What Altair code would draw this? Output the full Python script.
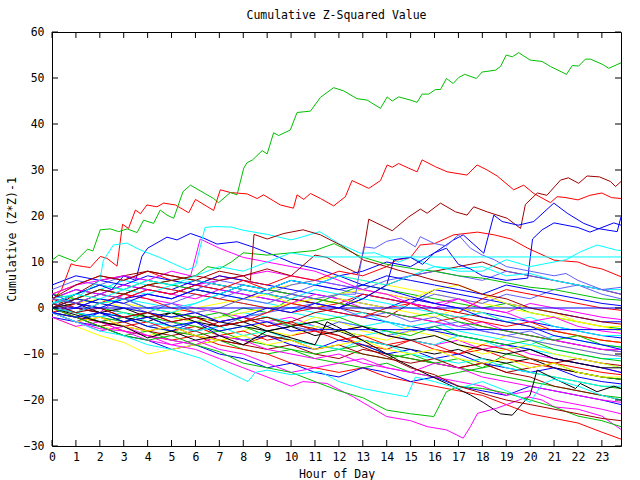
import altair as alt
import pandas as pd

FONT = "DejaVu Sans Mono"
FS = 11.5

HOURS = list(range(24)) + [23.8]
X_TICKS = list(range(24))
Y_TICKS = [-30, -20, -10, 0, 10, 20, 30, 40, 50, 60]

# ---- prominent series read point by point: (hour, value) ----
green_top = [(0,10.4),(0.28,11.5),(0.97,10.1),(1.49,12.8),(1.71,12.4),(2.02,17),(2.44,17.2),(2.79,16.6),
    (3.14,17.2),(3.56,16.4),(3.83,19.1),(4.25,18.4),(4.53,21.3),(4.81,20.2),(5.09,19.5),(5.48,25.3),
    (5.79,26.7),(6.76,23.8),(6.97,22.9),(7.46,25.1),(7.74,24.6),(8.02,30.4),(8.16,31.6),(8.39,32.2),
    (8.79,34.2),(9.0,33.5),(9.27,38.1),(9.48,37.5),(9.97,38.7),(10.25,42.5),(10.81,42.8),(11.23,45.8),
    (11.78,47.9),(12.2,47.2),(12.76,45.5),(13.18,45.2),(13.74,43.4),(14.02,45.9),(14.23,45),(14.5,45.9),
    (15.06,45.1),(15.27,44.7),(15.48,46.5),(15.76,46.5),(16.04,47.5),(16.25,47.5),(16.5,49.9),(16.78,48.8),
    (17.01,50.1),(17.26,50.8),(17.75,49.9),(17.99,51.3),(18.55,51.7),(18.76,52.5),(19.0,55),(19.25,54.6),
    (19.52,55.5),(20.0,53.9),(20.5,53.6),(20.85,52.5),(21.52,50.8),(21.76,52.7),(22.03,52.6),(22.31,54.1),
    (22.52,54.1),(23.01,53),(23.29,52.1),(23.8,53.3)]
red_top = [(0,1.5),(0.4,4),(0.8,9.6),(0.97,9.3),(1.32,9),(1.6,8.8),(2.02,11.2),(2.3,10.8),(2.72,9.1),
    (2.95,18.2),(3.2,17.3),(3.49,21.3),(3.7,20.5),(3.97,22.4),(4.39,22),(4.67,22.8),(5.16,22.4),(5.72,20.7),
    (6.0,23.6),(6.76,21.2),(7.04,25.7),(7.46,25.1),(8.16,24.8),(8.58,23.8),(8.85,24.6),(9.55,22.4),
    (10.1,21.7),(10.25,24.6),(10.53,23.6),(10.81,24.9),(11.23,23.8),(11.78,22.2),(12.27,24.2),(12.55,27.7),
    (12.97,26.7),(13.25,26),(13.74,27.7),(14.02,31.1),(14.23,30.6),(14.5,31.4),(14.92,30.4),(15.27,29.6),
    (15.48,32.2),(16.04,30.7),(16.53,29.6),(17.36,28.9),(17.78,31.1),(18.2,30),(18.62,28.7),(19.31,25.7),
    (19.73,26.7),(20.15,24.9),(20.85,22.9),(21.13,24.2),(21.5,24),(22.0,23.5),(22.5,24.5),(23.0,25),
    (23.4,24),(23.8,23.8)]
darkred_jump = [(0,2),(1,5),(2,7),(3,6),(4,8),(5,7),(6,6),(7,8),(8,7),(9,8.5),(10,7),(11,11.5),(11.5,11),
    (12,9.5),(12.8,7.5),(13.04,12.6),(13.25,19.3),(13.88,17.7),(14.23,16.8),(14.92,19.8),(15.41,21.5),
    (15.69,20.6),(16.25,22.8),(16.88,20.9),(17.36,20.2),(17.64,22),(18.2,20.9),(19.04,19.5),(19.6,17.3),
    (19.8,22.5),(20.3,25),(20.7,24.5),(21.27,27.8),(21.6,28.3),(22.03,27.1),(22.38,28.7),(22.9,28.5),
    (23.36,27.5),(23.57,26.4),(23.8,27.5)]
darkred_step = [(0,0),(1,2),(2,4),(3,3),(4,5),(5,6),(6,7),(7,6),(8,7),(8.3,6),(8.45,16),(9,15),(9.7,16.2),
    (10.5,17),(11.23,15.9),(12.06,13.7),(12.62,11.9),(13.04,10.4),(14,9),(14.43,8.3),(15,7.5),(16,6),
    (17,5),(18,3),(19,2),(20,0),(21,-1),(22,-2),(23,-3),(23.8,-3.5)]
red_mid = [(0,-1),(1,1),(2,3),(3,2),(4,4),(5,3),(6,5),(7,4),(8,6),(9,5),(10,7),(11,6),(12,8),(13,7),
    (14,9),(14.4,10.4),(15,11),(15.4,13.7),(16,14),(16.8,15.9),(17.8,16.5),(18.5,15.9),(19.2,15),
    (19.9,13),(21,10.4),(22,10),(22.5,9),(23,8.5),(23.8,6.8)]
cyan_top = [(0,1),(1,2),(2,6),(2.15,10.4),(2.57,13.7),(3.13,14.1),(3.7,12.6),(4.5,11),(5.65,8.3),(6.0,9),
    (6.4,17.5),(6.76,17.7),(7.5,17.6),(8,16.9),(9,16),(10,14.8),(10.5,15.5),(11.2,16.6),(12,14),
    (12.9,11.9),(13.5,12),(14.5,10),(15,11),(16,9),(17,8.5),(18,9),(19,7),(20,7.5),(21,6),(22,5),
    (23,4),(23.8,4)]
cyan_right = [(0,0),(1,-1),(2,1),(3,2),(4,0),(5,-1),(6,1),(7,3),(8,5),(9,4),(10,6),(11,5),(12,7),(13,6),
    (14,5),(15,7),(16,9),(17,8),(18,8),(19,10.5),(20,9),(21,10),(21.5,10.5),(22.1,12.2),(22.8,13.7),
    (23.6,12.6),(23.8,12.5)]
cyan_flat = [(0,1),(1,3),(2,2),(3,4),(4,6),(5,5),(6,7),(7,9),(8,8),(9,10),(10,12),(11,11.1),(23.8,11.1)]
blue_zero = [(0,0),(23.8,0)]
blue_flat = [(0,-1),(1,-2),(2,-1),(3,-3),(4,-2),(5,-4),(6,-3),(7,-5),(8,-4),(9,-3),(10,-5),(11,-4.7),(23.8,-4.7)]
blue_plateau = [(0,1),(1,3),(2,5),(2.5,4),(3,7),(3.5,6),(3.76,11.2),(4.0,13),(4.81,15.4),(5.23,14.8),
    (5.79,16.2),(6.34,15.2),(6.9,13.9),(7.74,14.4),(8.43,13.2),(9.27,11.5),(10.1,9.7),(11.23,8.3),(12,7),
    (13,5),(14,4),(15,2.5),(16,1),(17,0),(18,-2),(19,-3),(20,-4),(21,-6),(22,-7),(23,-8),(23.8,-9)]
blue_high = [(0,-1),(1,0),(2,2),(3,1),(4,3),(5,2),(6,4),(7,3),(8,5),(9,4),(10,6),(11,5),(12,7),(13,8),
    (14,10),(15,9),(16,12),(16.8,14.8),(17.2,15.9),(18.06,11.9),(18.48,20.2),(18.83,18.8),(19.5,18),
    (20.15,18.8),(20.99,22.8),(21.55,20.6),(22.24,18.4),(22.8,17.3),(23.64,16.6),(23.8,19.8)]
blue_jump20 = [(0,0),(1,2),(2,1),(3,0),(4,-1),(5,-2),(6,-1),(7,-3),(8,-2),(9,0),(10,-1),(11,1),(12,0),
    (13,2),(14,5),(14.3,10.5),(15,11),(15.5,9.5),(16,12),(16.5,13),(17,9.5),(17.5,8.5),(18,7),(19,6),
    (19.9,6.5),(20.1,15),(20.5,17),(21,18.5),(21.5,18),(22,17.5),(22.5,16.5),(23,17.5),(23.5,18.5),(23.8,18)]
blue_jump13 = [(0,2),(1,1),(2,3),(3,2),(4,0),(5,1),(6,-1),(7,0),(8,2),(9,1),(10,3),(11,2),(12,3),(12.7,3),
    (13.04,13.3),(13.5,13),(14,14.5),(14.6,15.2),(15.2,13.3),(15.4,15.5),(16,14),(16.5,13.5),(17,15.9),
    (17.5,13),(18,11.5),(18.5,10.5),(19,9),(19.5,8.5),(20,8),(20.5,7.5),(21,7),(21.5,7.5),(22,6),(22.5,5),
    (23,4),(23.8,4.5)]
green_mid = [(0,0),(1,2),(2,4),(3,3),(4,5),(5,6),(6,7),(6.5,9),(7,8.5),(7.5,10),(8,12),(9,11.5),(10,12),
    (11,12.5),(11.8,14),(12.9,11.2),(14,9.5),(15.4,8.3),(16,8),(17,7),(18,6.5),(19,5.5),(20,4.5),(21,4),
    (22,3),(23,2),(23.8,1.7)]
magenta_peak = [(0,3),(1,5),(2,6),(3,7),(4,6),(5,8),(5.8,7),(6.2,15),(7,13),(8,11),(9,10),(10,9),(11,8),
    (12,6),(13,4),(14,3),(15,1),(16,0),(17,2),(18,0),(19,-1),(20,-3),(21,-2),(22,-4),(23,-5),(23.8,-5.5)]
black_diag = [(0,0),(1,-1.5),(2,-3),(3,-4),(4,-6.5),(5,-5),(6,-7),(7,-6),(8,-8),(9,-5),(10,-6.5),(11,-8),
    (11.5,-3),(11.9,-4),(12.6,-5.9),(14.7,-12),(16.5,-16.4),(17.5,-18.9),(18.06,-20.6),(18.76,-23),
    (19.25,-23.3),(20.0,-18.9),(20.29,-13.5),(20.99,-15.3),(21.9,-17.5),(22.1,-16.4),(22.8,-18.2),
    (23.5,-17),(23.8,-17.5)]
darkred_diag = [(0,1),(1,-1),(2,0),(3,-2),(4,-1),(5,-3),(6,-2),(7,-4),(8,-3),(9,-2),(10,-3.5),(11,-4.5),
    (12,-6),(13,-8.5),(14,-10.5),(15,-13),(16,-14.5),(17,-17),(17.8,-18.2),(18.3,-19),(19,-20),(20,-21),
    (21,-22),(22,-23),(23,-24),(23.8,-24.5)]
magenta_low = [(0,-1),(1,-3),(2,-4.5),(3,-5),(4,-7),(5,-8),(6,-9),(7,-11),(8,-13),(9,-15),(10,-17),
    (10.5,-16),(11.5,-16.4),(12.6,-19.3),(14,-23.6),(15,-24.5),(15.7,-25.8),(16.5,-26.5),(17.2,-28.3),
    (17.5,-25.8),(17.8,-22.9),(18.6,-21.8),(19.9,-19.3),(20.5,-20),(21,-21.5),(22,-22),(23,-23.5),(23.8,-26.4)]
green_low = [(0,0),(1,-2),(2,-4),(3,-6),(4,-7),(5,-6),(6,-8),(7,-9.5),(8,-12),(9,-13),(10,-14),(11,-16),
    (12,-18),(13,-19.5),(14,-22.2),(15,-23),(15.97,-23.6),(16.5,-18.2),(17,-17),(18,-17.5),(19,-18.5),
    (20,-20),(21,-21.5),(22,-23.5),(23,-24.5),(23.8,-25.8)]
cyan_low = [(0,-1),(1,-3),(2,-5),(3,-6),(4,-8),(5,-9),(6.2,-10.9),(7,-13),(8.2,-16),(8.5,-14),(9,-13.5),
    (10,-14.5),(11.2,-13.8),(12,-16),(13,-17.5),(14,-18.5),(14.85,-19.3),(15.2,-15),(16,-16),(17,-17.5),
    (18,-16),(19,-18),(20,-20.5),(20.5,-16.5),(21,-15.5),(22,-17),(23,-19),(23.8,-20)]

# ---- background series, one value per hour (HOURS) ----
bg_red_1 = [3,5,7,6,8,6,5,7,6,4,3,2,1,0,-1,-2,-3,-2,-4,-5,-6,-7,-8,-9,-9.5]
bg_green_1 = [0,-1,-2,-3,-1,-2,-3,-2,0,-1,2,1,3,5,4,3,2,1,0,1,-1,-2,-3,-4,-4.5]
bg_blue_1 = [0,2,1,3,5,4,6,5,4,3,2,1,0,3,2,1,4,3,2,1,0,-1,-2,-3,-3]
bg_magenta_1 = [1,0,-1,3,2,1,0,-1,-2,-3,-2,-4,-5,-4,-6,-7,-8,-7,-9,-8,-10,-11,-12,-13,-14]
bg_cyan_1 = [3,2,4,6,5,4,3,2,1,0,-1,-2,-3,-4,-3,-5,-4,-6,-7,-8,-9,-10,-11,-12,-13]
bg_darkred_1 = [0,3,6,7,8,7,6,5,4,3,2,1,0,-1,-2,1,0,-1,-2,-3,-4,-5,-6,-7,-7.5]
bg_yellow_1 = [0,-2,-4,-5,-6,-5,-4,-6,-5,-3,-4,-2,-3,-5,-6,-4,-5,-7,-8,-6,-7,-8,-9,-10,-10.5]
bg_slate_1 = [-1,-2,-3,-2,-4,-3,-5,-4,-2,-3,-4,-5,-3,-4,-6,-5,-4,-3,-5,-6,-5,-7,-8,-9,-9.5]
bg_red_2 = [-1,-3,-2,-4,-3,-5,-4,-6,-5,-7,-6,-5,-6,-8,-9,-7,-8,-10,-9,-11,-12,-13,-14,-15,-15.5]
bg_blue_2 = [2,4,3,5,7,6,5,4,3,2,1,0,-1,-2,-3,-4,-5,-6,-7,-8,-9,-11,-12,-13,-14]
bg_yellow_2 = [1,3,2,1,0,-1,0,1,2,4,5,6,7,6,5,4,3,2,1,0,-1,-2,-3,-4,-5]
bg_magenta_2 = [0,1,3,2,4,3,5,6,7,8,7,6,5,4,3,2,1,2,0,-1,1,0,-1,-2,-2.5]
bg_cyan_2 = [-1,-2,-1,-3,-2,-4,-3,-2,-1,-2,-3,-4,-5,-6,-5,-7,-8,-6,-7,-9,-8,-9,-10,-11,-11]
bg_green_2 = [-1,-2,-4,-6,-5,-7,-8,-7,-9,-10,-9,-11,-12,-13,-12,-14,-15,-14,-13,-12,-14,-15,-16,-17,-17.5]
bg_black_2 = [1,0,-1,-2,-3,-1,-2,-3,-4,-5,-4,-6,-5,-7,-8,-9,-10,-9,-11,-12,-11,-13,-14,-15,-15.5]
bg_darkred_2 = [0,-1,-3,-4,-5,-6,-5,-7,-8,-9,-8,-10,-11,-9,-10,-11,-12,-13,-12,-14,-13,-12,-11,-12,-12.5]
bg_slate_2 = [4,6,5,7,6,5,4,6,5,4,3,5,4,3,2,1,3,2,1,3,2,4,5,3,2]
bg_red_3 = [0,-2,-3,-5,-6,-7,-6,-8,-9,-10,-12,-13,-14,-13,-15,-16,-17,-18,-19,-21,-23,-24,-25,-27,-28.5]
bg_blue_3 = [-1,-3,-4,-6,-7,-9,-8,-10,-11,-13,-12,-14,-15,-13,-14,-16,-15,-17,-18,-19,-17,-18,-19,-20,-21]
bg_yellow_3 = [-2,-4,-6,-7.5,-10,-9,-8,-7,-6,-5,-6,-4,-5,-6,-7,-5,-6,-8,-10,-9,-8,-10,-11,-12,-13]
bg_magenta_3 = [-1,-3,-5,-4,-6,-8,-7,-9,-10,-12,-14,-13,-12,-11,-13,-14,-15,-16,-17,-19,-18,-20,-21,-22,-23]
bg_cyan_3 = [0,1,0,2,1,0,1,3,2,1,0,-1,-2,-1,-3,-4,-3,-5,-6,-7,-8,-6,-7,-8,-8.5]
bg_green_3 = [2,1,0,-1,-2,-3,-4,-5,-4,-6,-7,-8,-9,-10,-11,-10,-12,-13,-14,-15,-16,-17,-18,-19,-19.5]
bg_blue_4 = [5,7,6,5,4,3,5,7,6,5,4,3,2,1,0,2,1,0,-1,-2,-3,-4,-5,-6,-6.5]
bg_darkred_3 = [2,0,-1,-3,-2,-4,-5,-3,-2,-4,-3,-1,0,2,5,7,8,9,10,8,7,6,5,4,3]
bg_slate_3 = [0,-1,-2,0,-1,1,3,2,4,3,5,6,5,4,6,7,8,7,6,8,7,6,5,4,3]
bg_red_4 = [1,2,4,3,5,4,3,2,1,0,-1,0,1,3,2,1,0,-1,2,4,3,2,1,0,-0.5]
bg_yellow_4 = [3,2,1,0,-1,-2,-3,-2,-1,0,1,2,3,4,3,2,4,5,3,1,0,-1,-3,-4,-4]
bg_green_4 = [0,-1,-3,-2,-4,-5,-6,-5,-7,-8,-9,-10,-9,-8,-10,-11,-12,-11,-13,-10,-11,-12,-14,-15,-15.5]
bg_red_5 = [0,-1,1,3,2,0,-1,-3,-2,-4,-3,-5,-7,-6,-8,-7,-9,-10,-8,-9,-11,-12,-13,-14,-14.5]
bg_blue_5 = [-2,-3,-1,-2,-4,-5,-3,-6,-7,-6,-8,-9,-7,-8,-10,-9,-11,-10,-12,-13,-14,-13,-15,-16,-16.5]
bg_magenta_4 = [2,4,3,5,4,3,2,4,3,2,1,3,2,0,-1,-2,-3,-4,-3,-5,-6,-7,-8,-9,-9]
bg_green_5 = [3,2,1,2,0,-1,-2,-1,-3,-2,-4,-3,-2,-4,-5,-6,-4,-6,-7,-8,-7,-9,-10,-11,-11.5]
bg_cyan_4 = [1,-1,-2,-1,-3,-4,-5,-4,-6,-5,-7,-8,-9,-7,-8,-10,-11,-12,-11,-13,-14,-15,-16,-17,-17]
bg_yellow_5 = [0,1,2,0,-1,-2,-1,0,2,3,1,0,2,1,0,-1,-2,0,-1,-3,-4,-5,-6,-7,-7.5]
bg_darkred_4 = [-1,-2,-4,-3,-5,-4,-6,-7,-8,-6,-7,-9,-8,-10,-11,-12,-11,-13,-12,-14,-15,-17,-18,-19,-20]
bg_slate_4 = [1,0,2,1,-1,-2,-1,-3,-2,-1,0,1,0,-2,-1,-3,-2,-4,-5,-6,-7,-8,-9,-10,-10.5]
bg_black_3 = [0,1,-1,0,-2,-1,-3,-4,-3,-5,-4,-3,-5,-4,-6,-7,-6,-8,-9,-10,-9,-11,-12,-13,-13]
bg_red_6 = [2,1,0,-2,-1,-3,-2,-4,-3,-1,1,0,-1,-2,0,1,-1,-2,-3,-4,-3,-5,-6,-7,-7.5]
bg_blue_6 = [3,1,0,2,3,2,4,3,2,4,6,5,4,5,7,6,5,4,3,5,4,3,2,1,0.5]
bg_green_6 = [1,3,5,4,6,5,4,3,5,4,3,2,1,0,-1,-2,-1,-3,-4,-5,-6,-7,-6,-8,-8.5]
bg_magenta_5 = [-2,-4,-3,-5,-6,-7,-8,-6,-7,-9,-10,-11,-10,-12,-13,-14,-12,-13,-15,-16,-17,-18,-19,-20,-20.5]
bg_cyan_5 = [2,3,5,4,3,5,6,5,4,3,2,4,3,2,1,0,-1,-2,-1,-3,-2,-4,-5,-6,-6]
bg_yellow_6 = [-1,-3,-2,-4,-5,-4,-6,-7,-6,-8,-7,-9,-8,-7,-9,-10,-9,-11,-12,-11,-13,-12,-14,-15,-15]

RED, GREEN, BLUE, MAGENTA, CYAN = "#ff0000", "#00c000", "#0000ff", "#ff00ff", "#00ffff"
DARKRED, YELLOW, BLACK, SLATE = "#a00000", "#ffff00", "#000000", "#6060ff"

background = [
    ("bg_red_1", RED, bg_red_1), ("bg_green_1", GREEN, bg_green_1), ("bg_blue_1", BLUE, bg_blue_1),
    ("bg_magenta_1", MAGENTA, bg_magenta_1), ("bg_cyan_1", CYAN, bg_cyan_1),
    ("bg_darkred_1", DARKRED, bg_darkred_1), ("bg_yellow_1", YELLOW, bg_yellow_1),
    ("bg_slate_1", SLATE, bg_slate_1), ("bg_red_2", RED, bg_red_2), ("bg_blue_2", BLUE, bg_blue_2),
    ("bg_yellow_2", YELLOW, bg_yellow_2), ("bg_magenta_2", MAGENTA, bg_magenta_2),
    ("bg_cyan_2", CYAN, bg_cyan_2), ("bg_green_2", GREEN, bg_green_2), ("bg_black_2", BLACK, bg_black_2),
    ("bg_darkred_2", DARKRED, bg_darkred_2), ("bg_slate_2", SLATE, bg_slate_2), ("bg_red_3", RED, bg_red_3),
    ("bg_blue_3", BLUE, bg_blue_3), ("bg_yellow_3", YELLOW, bg_yellow_3),
    ("bg_magenta_3", MAGENTA, bg_magenta_3), ("bg_cyan_3", CYAN, bg_cyan_3),
    ("bg_green_3", GREEN, bg_green_3), ("bg_blue_4", BLUE, bg_blue_4),
    ("bg_darkred_3", DARKRED, bg_darkred_3), ("bg_slate_3", SLATE, bg_slate_3),
    ("bg_red_4", RED, bg_red_4), ("bg_yellow_4", YELLOW, bg_yellow_4), ("bg_green_4", GREEN, bg_green_4),
    ("bg_red_5", RED, bg_red_5), ("bg_blue_5", BLUE, bg_blue_5), ("bg_magenta_4", MAGENTA, bg_magenta_4),
    ("bg_green_5", GREEN, bg_green_5), ("bg_cyan_4", CYAN, bg_cyan_4), ("bg_yellow_5", YELLOW, bg_yellow_5),
    ("bg_darkred_4", DARKRED, bg_darkred_4), ("bg_slate_4", SLATE, bg_slate_4),
    ("bg_black_3", BLACK, bg_black_3), ("bg_red_6", RED, bg_red_6), ("bg_blue_6", BLUE, bg_blue_6),
    ("bg_green_6", GREEN, bg_green_6), ("bg_magenta_5", MAGENTA, bg_magenta_5),
    ("bg_cyan_5", CYAN, bg_cyan_5), ("bg_yellow_6", YELLOW, bg_yellow_6),
]
detailed = [
    ("red_top", RED, red_top), ("green_top", GREEN, green_top), ("blue_plateau", BLUE, blue_plateau),
    ("magenta_peak", MAGENTA, magenta_peak), ("cyan_top", CYAN, cyan_top),
    ("darkred_jump", DARKRED, darkred_jump), ("black_diag", BLACK, black_diag),
    ("blue_high", BLUE, blue_high), ("red_mid", RED, red_mid), ("green_mid", GREEN, green_mid),
    ("blue_jump20", BLUE, blue_jump20), ("magenta_low", MAGENTA, magenta_low),
    ("cyan_right", CYAN, cyan_right), ("darkred_step", DARKRED, darkred_step),
    ("green_low", GREEN, green_low), ("blue_jump13", SLATE, blue_jump13), ("cyan_low", CYAN, cyan_low),
    ("darkred_diag", DARKRED, darkred_diag), ("cyan_flat", CYAN, cyan_flat),
    ("blue_flat", BLUE, blue_flat), ("blue_zero", BLUE, blue_zero),
]

rows = []
names, colors = [], []
for name, col, vals in background:
    names.append(name); colors.append(col)
    for i, (h, v) in enumerate(zip(HOURS, vals)):
        rows.append({"series": name, "hour": h, "value": v, "idx": i})
for name, col, pts in detailed:
    names.append(name); colors.append(col)
    for i, (h, v) in enumerate(pts):
        rows.append({"series": name, "hour": h, "value": v, "idx": i})
df = pd.DataFrame(rows)

W, H = 569, 414
TICK = 6
xscale = alt.Scale(domain=[0, 23.8], nice=False, zero=False)
yscale = alt.Scale(domain=[-30, 60], nice=False, zero=False)
xaxis = alt.Axis(values=X_TICKS, title="Hour of Day", ticks=False, domain=False, grid=False,
                 labelPadding=5, labelFlush=False, titleX=W / 2, titleY=28,
                 titleBaseline="middle", titleAlign="center")
yaxis = alt.Axis(values=Y_TICKS, title="Cumulative (Z*Z)-1", ticks=False, domain=False,
                 grid=False, labelPadding=8, labelFlush=False, titleX=-40, titleY=H / 2,
                 titleBaseline="middle", titleAlign="center", titleAngle=270)

lines = alt.Chart(df).mark_line(strokeWidth=1, strokeCap="butt", strokeJoin="miter").encode(
    x=alt.X("hour:Q", scale=xscale, axis=xaxis),
    y=alt.Y("value:Q", scale=yscale, axis=yaxis),
    color=alt.Color("series:N", scale=alt.Scale(domain=names, range=colors), legend=None),
    order=alt.Order("idx:Q"),
)

xt = pd.DataFrame({"hour": X_TICKS})
yt = pd.DataFrame({"value": Y_TICKS})
tick_style = dict(color="black", strokeWidth=1)
bottom_ticks = alt.Chart(xt).mark_rule(**tick_style).encode(
    x=alt.X("hour:Q", scale=xscale, axis=xaxis), y=alt.value(H), y2=alt.value(H - TICK))
top_ticks = alt.Chart(xt).mark_rule(**tick_style).encode(
    x=alt.X("hour:Q", scale=xscale, axis=xaxis), y=alt.value(0), y2=alt.value(TICK))
left_ticks = alt.Chart(yt).mark_rule(**tick_style).encode(
    y=alt.Y("value:Q", scale=yscale, axis=yaxis), x=alt.value(0), x2=alt.value(TICK))
right_ticks = alt.Chart(yt).mark_rule(**tick_style).encode(
    y=alt.Y("value:Q", scale=yscale, axis=yaxis), x=alt.value(W - TICK), x2=alt.value(W))

chart = alt.layer(lines, bottom_ticks, top_ticks, left_ticks, right_ticks).properties(
    width=W, height=H,
    title=alt.TitleParams("Cumulative Z-Squared Value", font=FONT, fontSize=FS, fontWeight="normal",
                          color="black", anchor="middle", offset=5),
    autosize=alt.AutoSizeParams(type="none"),
    padding={"left": 52, "top": 32, "right": 19, "bottom": 34},
    background="white",
).configure_view(stroke="black", strokeWidth=1).configure_axis(
    labelFont=FONT, labelFontSize=FS, labelColor="black", titleFont=FONT, titleFontSize=FS,
    titleFontWeight="normal", titleColor="black",
)

chart.save("out.html", embed_options={"renderer": "svg", "actions": False})
